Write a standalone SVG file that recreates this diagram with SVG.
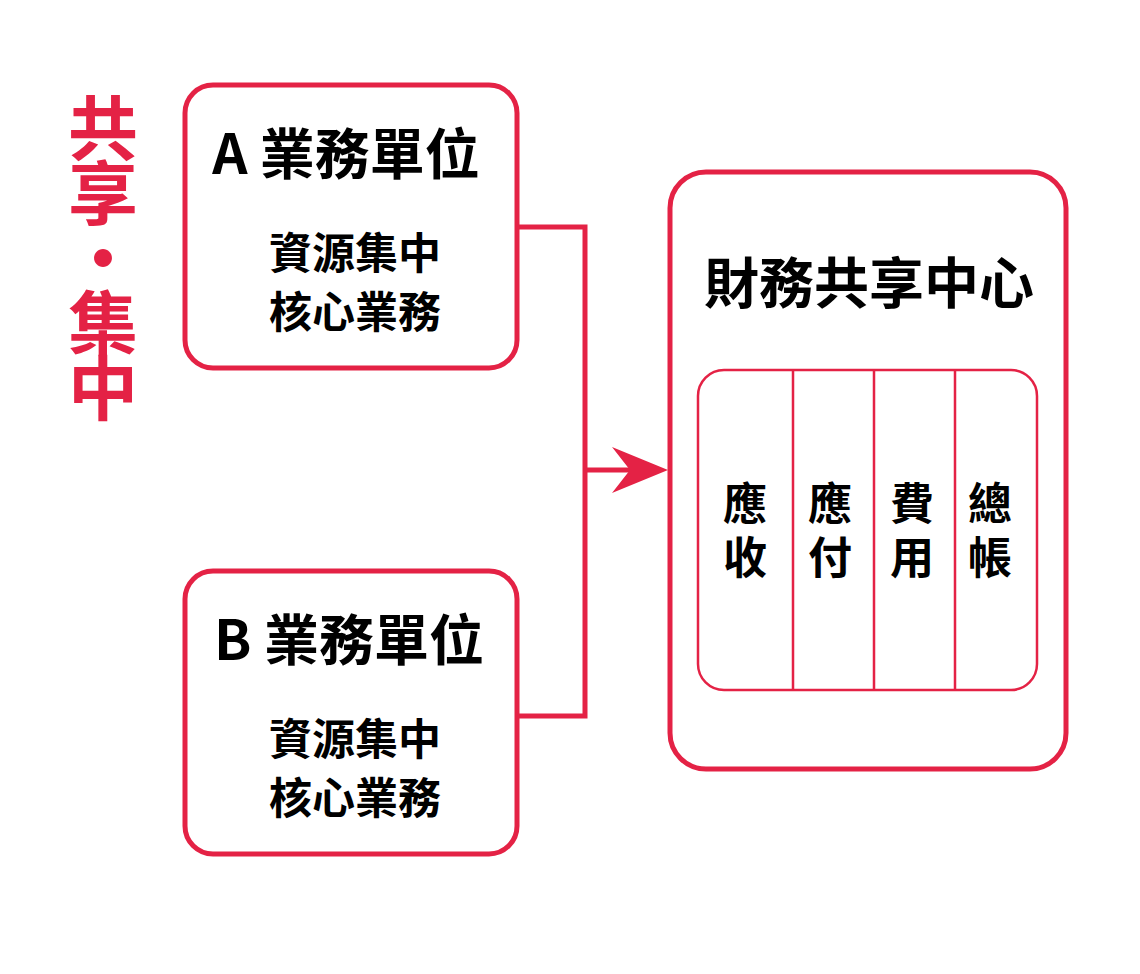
<svg xmlns="http://www.w3.org/2000/svg" width="1140" height="974" viewBox="0 0 1140 974">
<defs>
<style>
.box{fill:#fff;stroke:#E42245;stroke-width:5}
.inner{fill:none;stroke:#E42245;stroke-width:2.5}
.conn{fill:none;stroke:#E42245;stroke-width:5;stroke-linejoin:miter}
text{font-family:"Noto Sans CJK TC","Noto Sans CJK SC",sans-serif;font-weight:700;text-anchor:middle}
.title{font-size:55px;fill:#000}
.sub{font-size:43px;fill:#000}
.big{font-size:55px;fill:#000}
.col{font-size:44px;fill:#000;writing-mode:vertical-rl;text-anchor:start;letter-spacing:10px}
.side{font-size:70px;fill:#E42245;writing-mode:vertical-rl;text-anchor:start;letter-spacing:-5px}
</style>
</defs>
<rect width="1140" height="974" fill="#fff"/>
<g id="side-label">
<text class="side" x="103" y="93">共享・集中</text>
</g>
<g id="connectors">
<polyline class="conn" points="517,227 585,227 585,716 517,716"/>
<line class="conn" x1="585" y1="470" x2="630" y2="470"/>
<polygon points="668,470 612,447 630,470 612,493" fill="#E42245"/>
</g>
<g id="unit-a">
<rect class="box" x="185" y="85" width="332" height="283" rx="28"/>
<text class="title" x="346" y="174">A 業務單位</text>
<text class="sub" x="355" y="269">資源集中</text>
<text class="sub" x="355" y="328">核心業務</text>
</g>
<g id="unit-b">
<rect class="box" x="185" y="571" width="332" height="283" rx="28"/>
<text class="title" x="349" y="660">B 業務單位</text>
<text class="sub" x="355" y="755">資源集中</text>
<text class="sub" x="355" y="814">核心業務</text>
</g>
<g id="center">
<rect class="box" x="670" y="172" width="396" height="597" rx="36"/>
<text class="big" x="869" y="303">財務共享中心</text>
<rect class="inner" x="698" y="370" width="339" height="320" rx="26"/>
<line class="inner" x1="793" y1="370" x2="793" y2="690"/>
<line class="inner" x1="874" y1="370" x2="874" y2="690"/>
<line class="inner" x1="955" y1="370" x2="955" y2="690"/>
<text class="col" x="745" y="481">應收</text>
<text class="col" x="830" y="481">應付</text>
<text class="col" x="912" y="481">費用</text>
<text class="col" x="990" y="481">總帳</text>
</g>
</svg>
